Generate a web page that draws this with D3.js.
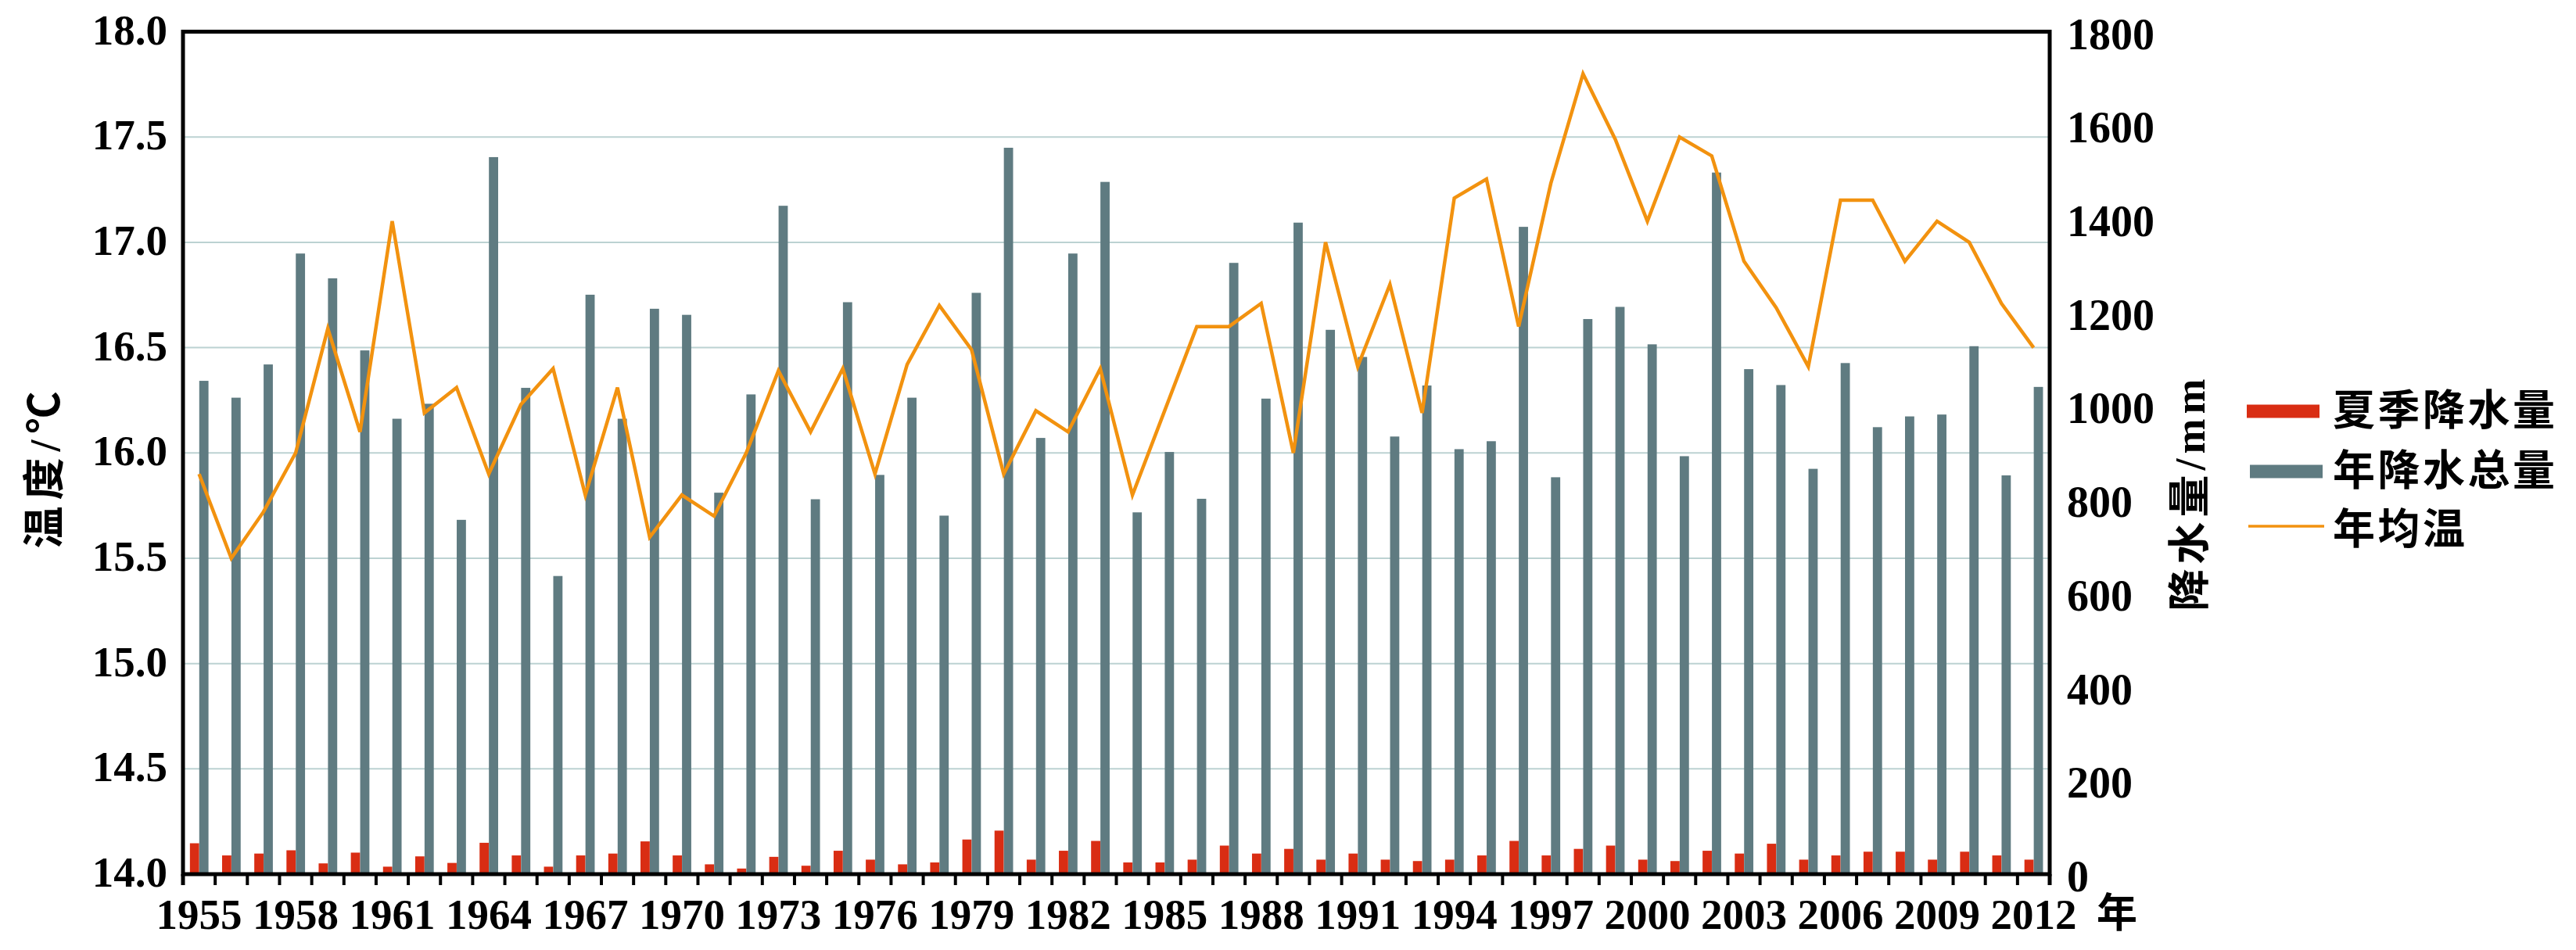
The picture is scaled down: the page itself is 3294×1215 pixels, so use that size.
<!DOCTYPE html>
<html><head><meta charset="utf-8">
<script src="https://cdn.jsdelivr.net/npm/d3@7"></script>
<style>
html,body{margin:0;padding:0;background:#fff;}
svg{display:block;}
text{font-family:"Liberation Serif","Noto Sans CJK SC",serif;font-weight:bold;fill:#000;}
</style></head>
<body>
<svg id="chart" width="3294" height="1215"></svg>
<script>
const years = d3.range(1955, 2013);
const tempMean = [15.90,15.50,15.72,16.00,16.59,16.10,17.10,16.19,16.31,15.90,
  16.23,16.40,15.80,16.31,15.60,15.80,15.70,16.00,16.39,16.10,
  16.40,15.90,16.42,16.70,16.49,15.90,16.20,16.10,16.40,15.80,
  16.20,16.60,16.60,16.71,16.00,17.00,16.41,16.80,16.19,17.21,
  17.30,16.60,17.28,17.80,17.49,17.10,17.50,17.41,16.91,16.69,
  16.41,17.20,17.20,16.91,17.10,17.00,16.71,16.50];
const annualPrecip = [1054,1018,1089,1326,1273,1119,973,1005,757,1532,
  1039,637,1238,973,1208,1195,815,1025,1428,801,
  1222,853,1018,766,1242,1552,932,1326,1479,773,
  902,802,1306,1016,1392,1163,1105,935,1044,908,
  925,1383,848,1186,1212,1132,893,1499,1079,1045,
  866,1092,955,978,982,1128,852,1041];
const summerPrecip = [66,40,44,51,23,46,16,38,24,67,
  40,16,40,44,70,40,21,12,37,18,
  50,31,21,25,74,93,31,50,71,25,
  25,31,61,44,54,31,44,31,28,31,
  40,71,40,54,61,31,28,50,44,65,
  31,40,48,48,31,48,40,31];
const yearLabels = d3.range(1955, 2013, 3);
const tempTicks = [14.0,14.5,15.0,15.5,16.0,16.5,17.0,17.5,18.0];
const precipTicks = [0,200,400,600,800,1000,1200,1400,1600,1800];
const legendLabels = ["夏季降水量","年降水总量","年均温"];

const C_RED = "#d92d13", C_GREY = "#5f7b81", C_ORANGE = "#f2920f", C_GRID = "#bcd2d2";

const L = 234, R = 2621, T = 40.5, B = 1118;
const svg = d3.select("#chart");

const x = d3.scaleBand().domain(years).range([L, R]).paddingInner(0).paddingOuter(0);
const yT = d3.scaleLinear().domain([14, 18]).range([B, T]);
const yP = d3.scaleLinear().domain([0, 1800]).range([B, T]);
const bw = x.bandwidth();

// gridlines
svg.append("g").selectAll("line").data(tempTicks.filter(t => t > 14 && t < 18)).join("line")
  .attr("x1", L).attr("x2", R).attr("y1", d => yT(d)).attr("y2", d => yT(d))
  .attr("stroke", C_GRID).attr("stroke-width", 2);

// bars
svg.append("g").selectAll("rect").data(years).join("rect")
  .attr("x", (d) => x(d) + 0.215 * bw).attr("width", 0.287 * bw)
  .attr("y", (d, i) => yP(summerPrecip[i])).attr("height", (d, i) => B - yP(summerPrecip[i]))
  .attr("fill", C_RED);
svg.append("g").selectAll("rect").data(years).join("rect")
  .attr("x", (d) => x(d) + 0.505 * bw).attr("width", 0.287 * bw)
  .attr("y", (d, i) => yP(annualPrecip[i])).attr("height", (d, i) => B - yP(annualPrecip[i]))
  .attr("fill", C_GREY);

// line
const line = d3.line().x((d, i) => x(years[i]) + bw / 2).y(d => yT(d));
svg.append("path").datum(tempMean).attr("d", line)
  .attr("fill", "none").attr("stroke", C_ORANGE).attr("stroke-width", 4.5)
  .attr("stroke-linejoin", "miter");

// x ticks at band boundaries
const bounds = years.map(y => x(y)).concat([R]);
svg.append("g").selectAll("line").data(bounds).join("line")
  .attr("x1", d => d).attr("x2", d => d).attr("y1", B).attr("y2", B + 14)
  .attr("stroke", "#000").attr("stroke-width", 4);

// frame
svg.append("rect").attr("x", L).attr("y", T).attr("width", R - L).attr("height", B - T)
  .attr("fill", "none").attr("stroke", "#000").attr("stroke-width", 5);
svg.append("line").attr("x1", L).attr("x2", L).attr("y1", B).attr("y2", B + 14).attr("stroke", "#000").attr("stroke-width", 5);
svg.append("line").attr("x1", R).attr("x2", R).attr("y1", B).attr("y2", B + 14).attr("stroke", "#000").attr("stroke-width", 5);

// left tick labels
svg.append("g").selectAll("text").data(tempTicks).join("text")
  .attr("x", 214).attr("y", d => yT(d) + 16)
  .attr("text-anchor", "end").attr("font-size", 55)
  .style("font-family", "'Liberation Serif', serif")
  .text(d => d.toFixed(1));

// right tick labels
svg.append("g").selectAll("text").data(precipTicks).join("text")
  .attr("x", 2643).attr("y", d => yP(d) + 22)
  .attr("text-anchor", "start").attr("font-size", 56)
  .style("font-family", "'Liberation Serif', serif")
  .text(d => d);

// x labels
svg.append("g").selectAll("text").data(yearLabels).join("text")
  .attr("x", d => x(d) + bw / 2).attr("y", 1188)
  .attr("text-anchor", "middle").attr("font-size", 55)
  .style("font-family", "'Liberation Serif', serif")
  .text(d => d);
svg.append("text").attr("x", 2707).attr("y", 1168).attr("dominant-baseline", "central")
  .attr("text-anchor", "middle").attr("font-size", 52).text("年");

// axis titles
svg.append("text").attr("transform", "translate(58,597) rotate(-90)")
  .attr("text-anchor", "middle").attr("dominant-baseline", "central")
  .attr("font-size", 54).attr("letter-spacing", 8).text("温度/℃");
svg.append("text").attr("transform", "translate(2801,630) rotate(-90)")
  .attr("text-anchor", "middle").attr("dominant-baseline", "central")
  .attr("font-size", 54).attr("letter-spacing", 6).text("降水量/mm");

// legend
const lg = svg.append("g");
const rowsY = [526, 603, 678];
lg.append("rect").attr("x", 2873).attr("y", rowsY[0] - 8.5).attr("width", 93).attr("height", 17).attr("fill", C_RED);
lg.append("rect").attr("x", 2877).attr("y", rowsY[1] - 8.5).attr("width", 93).attr("height", 17).attr("fill", C_GREY);
lg.append("line").attr("x1", 2875).attr("x2", 2972).attr("y1", rowsY[2] - 5).attr("y2", rowsY[2] - 5)
  .attr("stroke", C_ORANGE).attr("stroke-width", 3.5);
lg.selectAll("text").data(legendLabels).join("text")
  .attr("x", 2983).attr("y", (d, i) => rowsY[i]).attr("dominant-baseline", "central")
  .attr("font-size", 54).attr("letter-spacing", 3.5).text(d => d);
</script>
</body></html>
